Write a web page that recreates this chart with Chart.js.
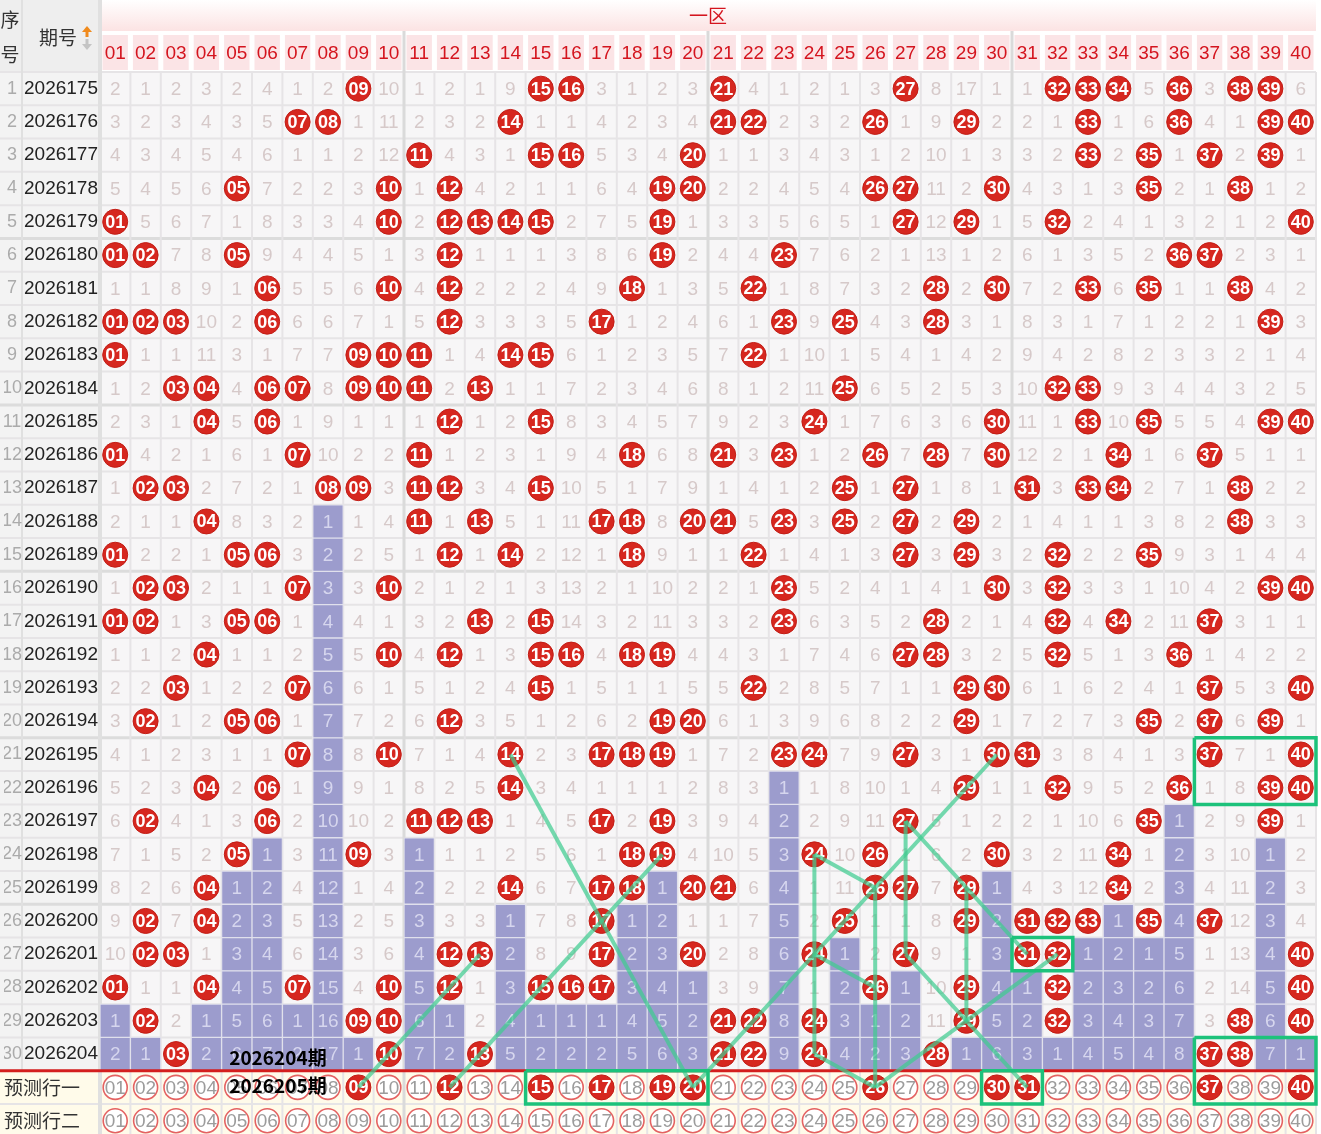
<!DOCTYPE html>
<html>
<head>
<meta charset="utf-8">
<script src="https://cdn.jsdelivr.net/npm/chart.js@4.4.1/dist/chart.umd.min.js"></script>
<style>
  html, body { margin: 0; padding: 0; background: #fff; }
  #trend { display: block; }
</style>
</head>
<body>
<canvas id="trend" width="1321" height="1134"></canvas>
<script>
// tick labels
var colLabels = ['01','02','03','04','05','06','07','08','09','10','11','12','13','14','15','16','17','18','19','20',
                 '21','22','23','24','25','26','27','28','29','30','31','32','33','34','35','36','37','38','39','40'];
var periods = ['2026175','2026176','2026177','2026178','2026179','2026180','2026181','2026182','2026183','2026184',
               '2026185','2026186','2026187','2026188','2026189','2026190','2026191','2026192','2026193','2026194',
               '2026195','2026196','2026197','2026198','2026199','2026200','2026201','2026202','2026203','2026204'];
var predLabels = ['预测行一', '预测行二'];

// numbers hit in each period
var draws = [
  [9,15,16,21,27,32,33,34,36,38,39],
  [7,8,14,21,22,26,29,33,36,39,40],
  [11,15,16,20,33,35,37,39],
  [5,10,12,19,20,26,27,30,35,38],
  [1,10,12,13,14,15,19,27,29,32,40],
  [1,2,5,12,19,23,36,37],
  [6,10,12,18,22,28,30,33,35,38],
  [1,2,3,6,12,17,23,25,28,39],
  [1,9,10,11,14,15,22],
  [3,4,6,7,9,10,11,13,25,32,33],
  [4,6,12,15,24,30,33,35,39,40],
  [1,7,11,18,21,23,26,28,30,34,37],
  [2,3,8,9,11,12,15,25,27,31,33,34,38],
  [4,11,13,17,18,20,21,23,25,27,29,38],
  [1,5,6,12,14,18,22,27,29,32,35],
  [2,3,7,10,23,30,32,39,40],
  [1,2,5,6,13,15,23,28,32,34,37],
  [4,10,12,15,16,18,19,27,28,32,36],
  [3,7,15,22,29,30,37,40],
  [2,5,6,12,19,20,29,35,37,39],
  [7,10,14,17,18,19,23,24,27,30,31,37,40],
  [4,6,14,29,32,36,39,40],
  [2,6,11,12,13,17,19,27,35,39],
  [5,9,18,19,24,26,30,34],
  [4,14,17,18,20,21,26,27,29,34],
  [2,4,17,25,29,31,32,33,35,37],
  [2,3,12,13,17,20,24,27,31,32,40],
  [1,4,7,10,12,15,16,17,26,29,32,40],
  [2,9,10,21,22,24,29,32,38,40],
  [3,10,13,21,22,24,28,37,38]
];
// omission shown in the first row (0 = hit)
var firstRowMiss = [2,1,2,3,2,4,1,2,0,10,1,2,1,9,0,0,3,1,2,3,0,4,1,2,1,3,0,8,17,1,1,0,0,0,5,0,3,0,0,6];

// prediction rows
var predOne = [9,12,15,17,19,20,26,30,31,37,40];
var predTwo = [];

// hand-drawn marks: [col, row, col, row] and boxes [colFrom, colTo, rowFrom, rowTo]
var greenLinks = [
  [14,21,20,31],[19,24,12,31],[13,27,9,31],[20,31,30,21],
  [24,24,26,25],[24,24,24,30],[24,27,26,28],[26,25,26,31],[24,30,26,31],
  [26,31,32,27],[27,23,27,27],[27,23,31,27],[27,27,31,31],[29,25,29,29]
];
var greenBoxes = [[37,40,21,22],[31,32,27,27],[37,40,30,31],[15,20,31,31],[30,31,31,31]];
var notes = [['2026204期', 30], ['2026205期', 31]];

var NUM = "'Liberation Sans', Arial, 'Noto Sans CJK SC', sans-serif";
var CJK = "'Noto Sans CJK SC', 'Liberation Sans', sans-serif";
var nRows = periods.length;
var totalRows = nRows + predLabels.length;
var allRows = [];
for (var r = 1; r <= totalRows; r++) allRows.push(r);

// omission table and last hit per column
var miss = [], lastHit = [];
for (var c = 1; c <= 40; c++) lastHit[c] = 0;
draws.forEach(function(row, i) {
  var m = [];
  for (var c = 1; c <= 40; c++) {
    if (row.indexOf(c) >= 0) { m[c] = 0; lastHit[c] = i + 1; }
    else m[c] = i === 0 ? firstRowMiss[c - 1] : miss[i - 1][c] + 1;
  }
  miss.push(m);
});

var barCells = [], missCells = [], ballCells = [], ringCells = [];
miss.forEach(function(m, i) {
  var r = i + 1;
  for (var c = 1; c <= 40; c++) {
    if (m[c] === 0) {
      ballCells.push({x: c, y: r, t: colLabels[c - 1]});
    } else {
      var deep = r > lastHit[c];
      if (deep) barCells.push({x: c, y: [r - 0.5, r + 0.5]});
      missCells.push({x: c, y: r, t: String(m[c]), p: deep});
    }
  }
});
[predOne, predTwo].forEach(function(pick, k) {
  var r = nRows + 1 + k;
  for (var c = 1; c <= 40; c++) {
    if (pick.indexOf(c) >= 0) ballCells.push({x: c, y: r, t: colLabels[c - 1]});
    else ringCells.push({x: c, y: r, t: colLabels[c - 1]});
  }
});

var datasets = [
  {
    type: 'bar', data: barCells, backgroundColor: '#9c9ccd', borderColor: '#e0e0ec', borderWidth: 1,
    borderSkipped: false, barPercentage: 1, categoryPercentage: 1, grouped: false, order: 6, sepLine: true
  },
  {
    type: 'scatter', data: missCells, pointRadius: 0, order: 5, clip: false,
    textStyle: { font: '19px ' + NUM, color: function(d) { return d.p ? '#d6d6ee' : '#d6c9c9'; } }
  },
  {
    type: 'scatter', data: ringCells, pointRadius: 12, backgroundColor: '#ffffff', borderColor: '#e46262',
    borderWidth: 1.6, order: 4, clip: false,
    textStyle: { font: '19px ' + NUM, color: '#9c9c9c' }
  },
  {
    type: 'scatter', data: ballCells, pointRadius: 12.5, backgroundColor: '#d6271f', borderColor: '#c21c15',
    borderWidth: 1, order: 3, clip: false,
    textStyle: { font: 'bold 18px ' + NUM, color: '#ffffff' }
  }
];
greenLinks.forEach(function(l) {
  datasets.push({
    type: 'line', data: [{x: l[0], y: l[1]}, {x: l[2], y: l[3]}],
    borderColor: 'rgba(64, 204, 144, 0.72)', borderWidth: 4, pointRadius: 0, fill: false, order: 1, clip: false
  });
});
greenBoxes.forEach(function(b) {
  var x0 = b[0] - 0.5, x1 = b[1] + 0.5, y0 = b[2] - 0.5, y1 = b[3] + 0.5;
  datasets.push({
    type: 'line', data: [{x: x0, y: y0}, {x: x1, y: y0}, {x: x1, y: y1}, {x: x0, y: y1}, {x: x0, y: y0}],
    borderColor: '#1dc27b', borderWidth: 3.5, pointRadius: 0, fill: false, order: 0, clip: false,
    borderJoinStyle: 'miter'
  });
});

// backgrounds, header cells and grid
var tableBack = {
  id: 'tableBack',
  beforeDraw: function(chart) {
    var ctx = chart.ctx, a = chart.chartArea, xs = chart.scales.x, ys = chart.scales.y;
    var W = chart.width, H = chart.height;
    var yTop = ys.getPixelForValue(0.5), yPred = ys.getPixelForValue(nRows + 0.5);
    ctx.save();
    ctx.fillStyle = '#ffffff';
    ctx.fillRect(0, 0, W, H);

    // left header
    ctx.fillStyle = '#eeeeee';
    ctx.fillRect(0, 0, a.left, a.top);
    // zone band
    var g = ctx.createLinearGradient(0, 0, 0, 31);
    g.addColorStop(0, '#ffffff');
    g.addColorStop(1, '#fce3e3');
    ctx.fillStyle = g;
    ctx.fillRect(a.left, 0, a.right - a.left, 31);
    // number header cells
    ctx.fillStyle = '#fbe4e6';
    for (var c = 1; c <= 40; c++) {
      var l = xs.getPixelForValue(c - 0.5), rr = xs.getPixelForValue(c + 0.5);
      ctx.fillRect(l + 2.5, 35, rr - l - 5, a.top - 37);
    }

    // left columns
    ctx.fillStyle = '#f3f3f3';
    ctx.fillRect(0, yTop, a.left, yPred - yTop);
    // cell area
    ctx.fillStyle = '#f7f6f7';
    ctx.fillRect(a.left, yTop, a.right - a.left, yPred - yTop);
    ctx.fillStyle = '#fffbea';
    ctx.fillRect(0, yPred, a.right, H - yPred);

    // horizontal lines
    for (var r = 0; r <= totalRows; r++) {
      var y = ys.getPixelForValue(r + 0.5);
      var five = r % 5 === 0 && r > 0 && r < nRows;
      ctx.strokeStyle = five ? '#dcdcdc' : '#e6e4e6';
      ctx.lineWidth = five ? 3 : 2;
      ctx.beginPath(); ctx.moveTo(0, y); ctx.lineTo(a.right, y); ctx.stroke();
    }
    // vertical lines
    for (var c2 = 0; c2 <= 40; c2++) {
      var x = xs.getPixelForValue(c2 + 0.5);
      var grp = c2 % 10 === 0 && c2 > 0 && c2 < 40;
      ctx.strokeStyle = grp ? '#dadada' : '#e6e4e6';
      ctx.lineWidth = grp ? 3 : 2;
      ctx.beginPath(); ctx.moveTo(x, grp ? 31 : yTop); ctx.lineTo(x, H); ctx.stroke();
    }
    ctx.strokeStyle = '#e0e0e0';
    ctx.lineWidth = 4;
    ctx.beginPath(); ctx.moveTo(a.left, 0); ctx.lineTo(a.left, H); ctx.stroke();
    ctx.lineWidth = 2;
    ctx.beginPath(); ctx.moveTo(22, 0); ctx.lineTo(22, yPred); ctx.stroke();

    // header texts
    ctx.fillStyle = '#333333';
    ctx.font = '19px ' + CJK;
    ctx.textAlign = 'center';
    ctx.textBaseline = 'middle';
    ctx.fillText('序', 10, 20);
    ctx.fillText('号', 10, 55);
    ctx.fillText('期号', 58, 38);
    // sort arrows
    ctx.fillStyle = '#f08a1c';
    ctx.beginPath(); ctx.moveTo(87, 26); ctx.lineTo(92, 32); ctx.lineTo(82, 32); ctx.closePath(); ctx.fill();
    ctx.fillRect(85.5, 32, 3, 5);
    ctx.fillStyle = '#c4c4c4';
    ctx.fillRect(85.5, 39, 3, 5);
    ctx.beginPath(); ctx.moveTo(82, 44); ctx.lineTo(92, 44); ctx.lineTo(87, 50); ctx.closePath(); ctx.fill();
    ctx.restore();
  }
};

// numbers inside cells and balls
var cellText = {
  id: 'cellText',
  afterDatasetDraw: function(chart, args) {
    var ds = chart.data.datasets[args.index];
    var ctx = chart.ctx;
    if (ds.sepLine) {
      var y = chart.scales.y.getPixelForValue(nRows + 0.5);
      ctx.save();
      ctx.strokeStyle = '#d41e1e';
      ctx.lineWidth = 3;
      ctx.beginPath(); ctx.moveTo(0, y); ctx.lineTo(chart.chartArea.right, y); ctx.stroke();
      ctx.restore();
    }
    if (!ds.textStyle) return;
    ctx.save();
    ctx.textAlign = 'center';
    ctx.textBaseline = 'middle';
    ctx.font = ds.textStyle.font;
    args.meta.data.forEach(function(el, i) {
      var d = ds.data[i];
      var col = ds.textStyle.color;
      ctx.fillStyle = typeof col === 'function' ? col(d) : col;
      ctx.fillText(d.t, el.x, el.y + 1);
    });
    ctx.restore();
  }
};

// period notes
var noteText = {
  id: 'noteText',
  afterDatasetsDraw: function(chart) {
    var ctx = chart.ctx, xs = chart.scales.x, ys = chart.scales.y;
    ctx.save();
    ctx.font = 'bold 19px ' + CJK;
    ctx.textAlign = 'left';
    ctx.textBaseline = 'middle';
    ctx.fillStyle = '#000000';
    notes.forEach(function(n, i) {
      ctx.fillText(n[0], xs.getPixelForValue(4.75), ys.getPixelForValue(n[1] + (i === 0 ? 0.1 : -0.05)));
    });
    ctx.restore();
  }
};

function rowTicks(scale) {
  scale.ticks = allRows.map(function(r) { return {value: r}; });
}
function rowAxis(weight, width, tickOpts) {
  return {
    type: 'linear', position: 'left', reverse: true, min: 0.5, max: totalRows + 0.4,
    offset: false, bounds: 'data', beginAtZero: false, weight: weight,
    afterBuildTicks: rowTicks,
    afterFit: function(s) { s.width = width; s.paddingTop = 0; s.paddingBottom = 0; },
    grid: { display: false, drawTicks: false },
    border: { display: false },
    ticks: tickOpts
  };
}

var ctx = document.getElementById('trend');
var chart = new Chart(ctx, {
  type: 'bar',
  data: { datasets: datasets },
  options: {
    responsive: false,
    animation: false,
    events: [],
    layout: { autoPadding: false, padding: { left: 4, right: 5, top: 0, bottom: 0 } },
    plugins: { legend: { display: false }, tooltip: { enabled: false } },
    scales: {
      x: {
        type: 'linear', position: 'top', min: 0.5, max: 40.5, offset: false, bounds: 'data',
        afterBuildTicks: function(s) { s.ticks = colLabels.map(function(l, i) { return {value: i + 1}; }); },
        afterFit: function(s) { s.height = 72; s.paddingLeft = 0; s.paddingRight = 0; },
        grid: { display: false, drawTicks: false },
        border: { display: false },
        ticks: {
          autoSkip: false, maxRotation: 0, minRotation: 0, padding: 7,
          color: '#d4141e', font: { size: 19, family: NUM },
          callback: function(v) { return colLabels[v - 1]; }
        },
        title: { display: true, text: '一区', color: '#d4141e', font: { size: 19, family: CJK }, padding: { top: 4, bottom: 0 } }
      },
      y: rowAxis(1, 78, {
        autoSkip: false, padding: 2, color: '#222222', font: { size: 19, family: NUM },
        callback: function(v) { return periods[v - 1] || ''; }
      }),
      yIdx: rowAxis(2, 18, {
        autoSkip: false, padding: 0, crossAlign: 'center', color: '#ababab', font: { size: 18, family: NUM },
        callback: function(v) { return v <= nRows ? String(v) : ''; }
      }),
      yPred: rowAxis(3, 0, {
        autoSkip: false, padding: 0, mirror: true, color: '#333333', font: { size: 19, family: CJK },
        callback: function(v) { return v > nRows ? predLabels[v - nRows - 1] : ''; }
      })
    }
  },
  plugins: [tableBack, cellText, noteText]
});
</script>
</body>
</html>
